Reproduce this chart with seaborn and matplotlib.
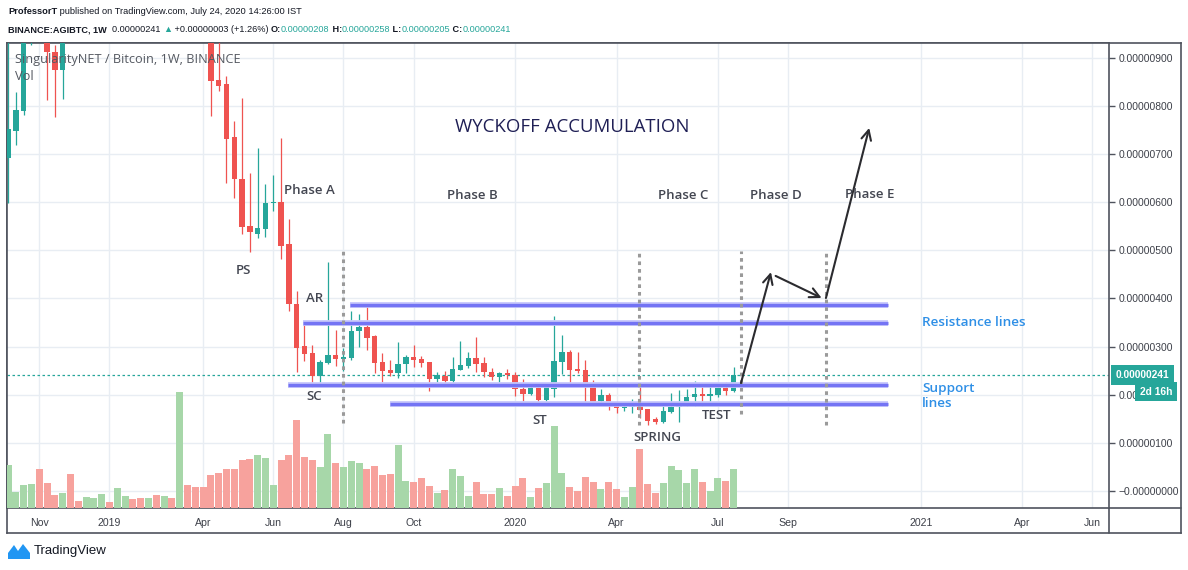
import numpy as np
import pandas as pd
import matplotlib
matplotlib.use("Agg")
import matplotlib.pyplot as plt
import seaborn as sns
from matplotlib.patches import Polygon
from matplotlib.lines import Line2D

# weekly AGI/BTC candles, prices in satoshi (1e-8 BTC)
start_date = "2018-10-08"
opens = [692, 749, 791, 1005, 1060, 985, 912, 876, 985, 965,
         958, 990, 1025, 1065, 1045, 1110, 1150, 1120, 1095, 1130,
         1100, 1140, 1115, 1350, 1250, 1150, 1060, 855, 846, 736,
         649, 551, 535, 545, 598, 600, 513, 388, 301, 286,
         239, 266, 282, 275, 277, 333, 341, 322, 268, 251,
         244, 263, 278, 274, 267, 233, 239, 229, 251, 260,
         276, 266, 247, 237, 244, 241, 212, 201, 214, 189,
         212, 268, 289, 253, 251, 218, 187, 199, 177, 172,
         175, 182, 171, 149, 142, 164, 174, 176, 194, 201,
         198, 199, 214, 208]
highs = [960, 830, 1030, 1090, 1120, 1000, 928, 1010, 1030, 990,
         1010, 1040, 1080, 1075, 1130, 1170, 1160, 1130, 1145, 1140,
         1160, 1150, 1420, 1370, 1270, 1170, 1075, 945, 862, 769,
         817, 661, 713, 638, 657, 735, 565, 416, 350, 303,
         272, 476, 334, 297, 374, 368, 389, 324, 287, 273,
         309, 282, 303, 280, 268, 247, 249, 279, 312, 289,
         320, 278, 256, 248, 254, 247, 232, 219, 216, 225,
         364, 323, 293, 289, 272, 230, 211, 203, 187, 180,
         191, 215, 171, 153, 176, 204, 210, 211, 228, 224,
         218, 215, 227, 258]
lows = [599, 719, 782, 927, 965, 813, 778, 815, 950, 945,
        948, 975, 1010, 1030, 1035, 1095, 1100, 1080, 1085, 1085,
        1090, 1100, 1105, 1230, 1120, 1040, 780, 832, 641, 609,
        534, 496, 525, 527, 583, 482, 373, 248, 270, 216,
        222, 264, 260, 250, 272, 300, 293, 244, 227, 239,
        234, 244, 257, 257, 208, 227, 218, 220, 251, 255,
        248, 237, 231, 226, 232, 198, 187, 199, 178, 187,
        196, 243, 224, 245, 178, 185, 185, 168, 162, 166,
        161, 151, 137, 138, 140, 162, 144, 176, 176, 176,
        182, 195, 199, 205]
closes = [753, 792, 1005, 1060, 985, 912, 876, 985, 965, 958,
          990, 1025, 1065, 1045, 1110, 1150, 1120, 1095, 1130, 1100,
          1140, 1115, 1350, 1250, 1150, 1060, 853, 843, 732, 648,
          549, 539, 546, 598, 601, 510, 388, 298, 285, 239,
          267, 282, 275, 278, 332, 341, 318, 266, 250, 244,
          263, 278, 272, 266, 233, 240, 229, 253, 261, 276,
          264, 246, 237, 245, 241, 212, 201, 213, 189, 215,
          270, 289, 252, 249, 216, 185, 199, 178, 173, 174,
          181, 168, 146, 144, 166, 174, 178, 194, 201, 198,
          201, 214, 208, 241]
# volume (relative units)
volumes = [42.7, 15.7, 22.7, 23.7, 38.7, 24.7, 12.7, 14.7, 33.7, 6.7,
           10.7, 9.7, 13.7, 5.7, 19.7, 11.7, 8.7, 9.7, 9.7, 12.7,
           11.7, 9.7, 115.7, 22.7, 20.7, 20.7, 32.7, 34.7, 38.7, 38.7,
           47.7, 48.7, 52.7, 49.7, 22.7, 47.7, 52.7, 87.7, 50.7, 47.7,
           40.7, 73.7, 44.7, 40.7, 46.7, 44.7, 38.7, 41.7, 32.7, 33.7,
           62.7, 26.7, 25.7, 29.7, 21.7, 14.7, 17.7, 38.7, 31.7, 11.7,
           25.7, 13.7, 13.7, 19.7, 11.7, 21.7, 29.7, 10.7, 19.7, 24.7,
           81.7, 34.7, 20.7, 16.7, 30.7, 25.7, 18.7, 25.7, 18.7, 10.7,
           20.7, 58.7, 23.7, 14.7, 24.7, 41.7, 37.7, 24.7, 38.7, 25.7,
           16.7, 29.7, 26.7, 38.7]

tick_dates = ["2018-11-05", "2019-01-07", "2019-04-01", "2019-06-03", "2019-08-05",
              "2019-10-07", "2020-01-06", "2020-04-06", "2020-07-06", "2020-09-07",
              "2021-01-04", "2021-04-05", "2021-06-07"]
tick_labels = ["Nov", "2019", "Apr", "Jun", "Aug", "Oct", "2020", "Apr", "Jul",
               "Sep", "2021", "Apr", "Jun"]
price_ticks = [0, 100, 200, 300, 400, 500, 600, 700, 800, 900]

UP, DOWN = "#26a69a", "#ef5350"
VOL_UP, VOL_DOWN = "#a7d7a9", "#f7a29d"
GRID = "#e8edf3"
FRAME = "#4f535d"
TXT = "#434651"
BLUE_LINE = "#7474f4"
SANS = ["Open Sans", "DejaVu Sans"]

sns.set_style("white")
plt.rcParams["font.family"] = ["Liberation Sans", "DejaVu Sans"]

# x in weeks, 0 = first weekly bar of 2019
ref = pd.Timestamp("2019-01-07")
dates = pd.date_range(start_date, periods=len(opens), freq="7D")
weeks = ((dates - ref).days / 7).to_numpy()
tick_w = [(pd.Timestamp(d) - ref).days / 7 for d in tick_dates]

o, h, l, c = map(np.array, (opens, highs, lows, closes))
up = c >= o
colors = np.where(up, UP, DOWN)

df_vol = pd.DataFrame({"week": weeks, "volume": volumes,
                       "dir": np.where(up, "up", "down")})

fig = plt.figure(figsize=(11.88, 5.70), dpi=100)
fig.patch.set_facecolor("white")

W, H = 1188.0, 570.0
def fx(px):
    return px / W
def fy(py):
    return 1 - py / H

# outer frame
frame = fig.add_axes([fx(7), fy(533), fx(1181) - fx(7), fy(43) - fy(533)])
frame.set_xticks([]); frame.set_yticks([])
frame.set_facecolor("none")
for s in frame.spines.values():
    s.set_color(FRAME); s.set_linewidth(1.2)

ax = fig.add_axes([fx(7), fy(508), fx(1109) - fx(7), fy(43) - fy(508)])
ax.set_zorder(2)
ax.set_facecolor("white")

# volume overlay
axv = ax.twinx()
sns.barplot(data=df_vol, x="week", y="volume", hue="dir",
            palette={"up": VOL_UP, "down": VOL_DOWN}, native_scale=True,
            dodge=False, width=0.9, errorbar=None, saturation=1,
            legend=False, linewidth=0, ax=axv)
axv.set_ylim(0, 465)
axv.set_yticks([])
axv.set_ylabel("")
axv.set_xlabel("")
for s in axv.spines.values():
    s.set_visible(False)

# candles
ax.vlines(weeks, l, h, colors=colors, linewidth=0.9, zorder=3)
ax.bar(weeks, np.maximum(np.abs(c - o), 2.0), bottom=np.minimum(o, c),
       width=0.68, color=colors, linewidth=0, zorder=4)

ax.set_xlim(-13.14, 128.14)
ax.set_ylim(-36.0, 931.7)
ax.set_xticks(tick_w)
ax.set_xticklabels(tick_labels)
ax.set_yticks(price_ticks)
ax.set_yticklabels(["\u22120.00000000" if v == 0 else f"{v * 1e-8:.8f}" for v in price_ticks])
ax.yaxis.tick_right()
ax.tick_params(axis="y", direction="out", length=4, width=1, color=FRAME,
               pad=3, labelsize=7.4, labelcolor="#3d4049")
ax.tick_params(axis="x", direction="out", length=4, width=1, color=FRAME,
               pad=3, labelsize=7.6, labelcolor="#3d4049")
ax.grid(True, color=GRID, linewidth=1, zorder=0)
ax.set_axisbelow(True)
for s in ax.spines.values():
    s.set_color(FRAME); s.set_linewidth(1.2)
ax.set_xlabel(""); ax.set_ylabel("")

# last price line and labels
last = closes[-1]
ax.axhline(last, color=UP, linestyle=(0, (2, 2)), linewidth=0.9, zorder=2)
ax.annotate(f"{last * 1e-8:.8f}", xy=(1, last), xycoords=("axes fraction", "data"),
            xytext=(5, 0), textcoords="offset points", ha="left", va="center",
            color="white", fontsize=7.4, fontweight="bold", annotation_clip=False,
            bbox=dict(boxstyle="square,pad=0.45", fc=UP, ec="none"), zorder=10)
ax.annotate("2d 16h", xy=(1, 206), xycoords=("axes fraction", "data"),
            xytext=(22, 0), textcoords="offset points", ha="left", va="center",
            color="white", fontsize=7.4, fontweight="bold", annotation_clip=False,
            bbox=dict(boxstyle="square,pad=0.45", fc=UP, ec="none"), zorder=10)

# Wyckoff drawings
for y0, x0 in [(386.4, 30.8), (349.6, 24.8), (220.0, 22.9), (180.4, 35.9)]:
    ax.plot([x0, 99.8], [y0, y0], color="#c8c8fb", linewidth=4.2, solid_capstyle="butt", zorder=5)
    ax.plot([x0, 99.8], [y0, y0], color=BLUE_LINE, linewidth=2.4, solid_capstyle="butt", zorder=5)

for xv, y_lo in [(30.0, 141), (67.9, 136), (80.9, 160), (91.9, 137)]:
    ax.plot([xv, xv], [y_lo, 498], color="#9a9a9a", linewidth=2.2,
            linestyle=(0, (1.2, 1.3)), zorder=5)

arrow_kw = dict(arrowstyle="->,head_length=0.7,head_width=0.35", color="#2b2b2f",
                lw=1.5, shrinkA=0, shrinkB=0)
for (xa, ya), (xb, yb) in [((80.96, 224), (84.8, 455)),
                           ((85.4, 447), (91.3, 401)),
                           ((91.85, 401), (97.4, 755))]:
    ax.annotate("", xy=(xb, yb), xytext=(xa, ya), arrowprops=arrow_kw, zorder=6)

ax.text(59.3, 757, "WYCKOFF ACCUMULATION", ha="center", va="center",
        fontsize=13.4, color="#1f1f55", family=SANS, zorder=6)
labels = [("Phase A", 25.6, 625), ("Phase B", 46.5, 615), ("Phase C", 73.5, 615),
          ("Phase D", 85.4, 615), ("Phase E", 97.4, 617), ("PS", 17.2, 459),
          ("AR", 26.3, 399), ("SC", 26.2, 195), ("ST", 55.2, 147),
          ("SPRING", 70.2, 110), ("TEST", 77.8, 157)]
for s, xt, yt in labels:
    ax.text(xt, yt, s, ha="center", va="center", fontsize=9.5,
            fontweight="semibold", color=TXT, family=SANS, zorder=6)
for s, yt in [("Resistance lines", 349), ("Support", 212), ("lines", 181)]:
    ax.text(104.2, yt, s, ha="left", va="center", fontsize=9.7,
            fontweight="semibold", color="#2e8fe6", family=SANS, zorder=6)

fig.text(fx(15), fy(60), "SingularityNET / Bitcoin, 1W, BINANCE", ha="left", va="center",
         fontsize=9.2, color="#555961", family=SANS, zorder=20)
fig.text(fx(15), fy(77), "Vol", ha="left", va="center", fontsize=9.2,
         color="#555961", family=SANS, zorder=20)

# extend separators through the axis strips
fig.add_artist(Line2D([fx(1109), fx(1109)], [fy(508), fy(533)], color=FRAME, lw=1.2))
fig.add_artist(Line2D([fx(1109), fx(1181)], [fy(508), fy(508)], color=FRAME, lw=1.2))

# header lines
def chain(pieces, x, y, size):
    first, rest = pieces[0], pieces[1:]
    prev = fig.text(x, y, first[0], ha="left", va="center", fontsize=size,
                    color=first[2], fontweight=first[1])
    for txt, wt, col in rest:
        prev = frame.annotate(txt, xy=(1, 0), xycoords=prev, va="bottom", ha="left",
                              fontsize=size, color=col, fontweight=wt,
                              annotation_clip=False)

DARK = "#131722"
chain([("ProfessorT", "bold", DARK),
       (" published on TradingView.com, July 24, 2020 14:26:00 IST", "normal", DARK)],
      fx(8), fy(11), 6.7)
chain([("BINANCE:AGIBTC, 1W", "bold", DARK),
       ("  0.00000241 ", "normal", DARK),
       ("\u25b2", "normal", UP),
       (" +0.00000003 (+1.26%) ", "normal", DARK),
       ("O:", "bold", DARK), ("0.00000208", "normal", UP),
       (" H:", "bold", DARK), ("0.00000258", "normal", UP),
       (" L:", "bold", DARK), ("0.00000205", "normal", UP),
       (" C:", "bold", DARK), ("0.00000241", "normal", UP)],
      fx(8), fy(30), 6.6)

# TradingView footer
logo = Polygon([(fx(8), fy(559)), (fx(8), fy(553)), (fx(14), fy(545)), (fx(18), fy(551)),
                (fx(23), fy(544)), (fx(30), fy(553)), (fx(30), fy(559))],
               closed=True, transform=fig.transFigure, fc="#2196f3", ec="none")
fig.add_artist(logo)
fig.text(fx(34), fy(551), "TradingView", ha="left", va="center", fontsize=9.5, color=DARK)

plt.savefig("out.png", dpi=100)
